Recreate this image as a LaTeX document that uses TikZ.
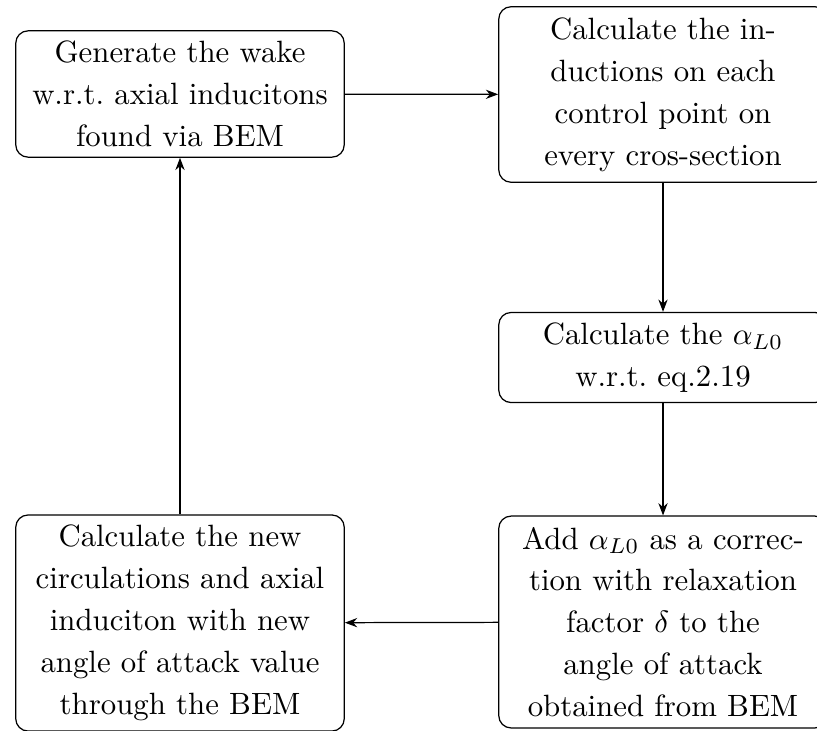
\documentclass[tikz,border=0pt]{standalone}
\usetikzlibrary{arrows.meta}
\begin{document}
\begin{tikzpicture}[x=0.3247pt,y=-0.3247pt,
  stepbox/.style={draw, rounded corners=4pt, text width=100pt, align=center, inner sep=3.33pt, line width=0.4pt, font=\fontsize{10}{13.6}\selectfont},
  flow/.style={-{Stealth[length=4pt,width=3pt]}, line width=0.4pt}]
\useasboundingbox (0,0) rectangle (817,730);
\node[stepbox, minimum height=40.9pt] (A) at (180,94) {Generate the wake w.r.t.\ axial inducitons found via BEM};
\node[stepbox, minimum height=57pt] (B) at (663,94.5) {Calculate the in\-ductions on each control point on every cros-section};
\node[stepbox, minimum height=28.9pt] (C) at (663,357.5) {Calculate the $\alpha_{L0}$ w.r.t.\ eq.2.19};
\node[stepbox, minimum height=68.8pt] (D) at (663,622) {Add $\alpha_{L0}$ as a correc\-tion with relaxation factor $\delta$ to the angle of attack obtained from BEM};
\node[stepbox, minimum height=69.5pt] (E) at (180,623) {Calculate the new circulations and axial induciton with new angle of attack value through the BEM};
\draw[flow] (A) -- (B);
\draw[flow] (B) -- (C);
\draw[flow] (C) -- (D);
\draw[flow] (D) -- (E);
\draw[flow] (E) -- (A);
\end{tikzpicture}
\end{document}
